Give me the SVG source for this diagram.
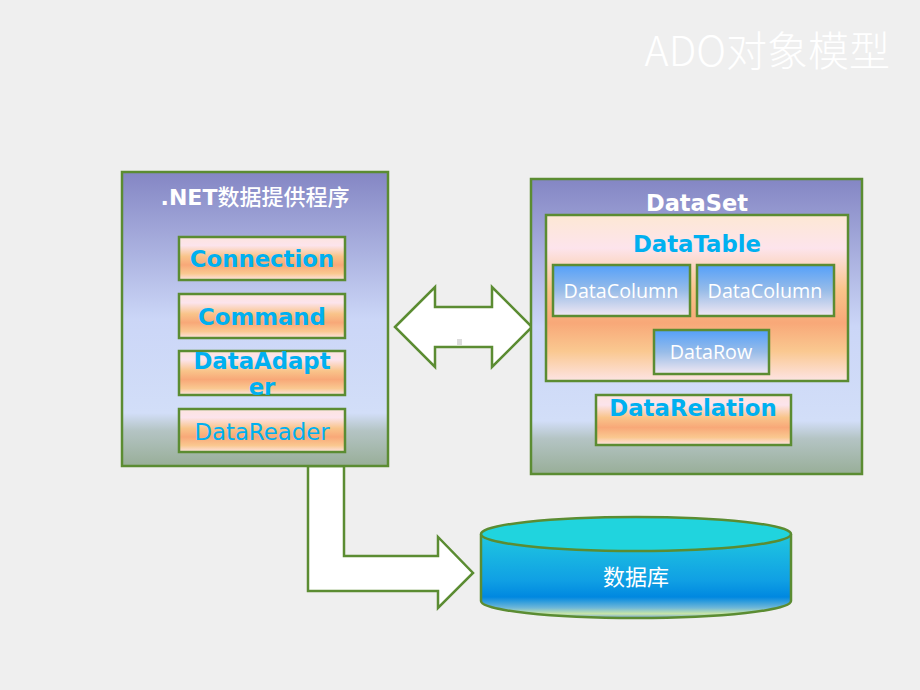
<svg xmlns="http://www.w3.org/2000/svg" width="920" height="690" viewBox="0 0 920 690">
<style>
.box{stroke:#5b8c32;stroke-width:2.5}
.t{font-family:"DejaVu Sans","Noto Sans CJK SC",sans-serif}
.w{fill:#ffffff}
.b{fill:#00b0f0;font-weight:bold;font-size:22.8px}
.cjk{font-family:"Noto Sans CJK SC","Liberation Sans",sans-serif}
.dc{font-family:"Open Sans","Liberation Sans",sans-serif;fill:#fff;font-size:19.7px}
</style>
<defs>
<linearGradient id="outer" x1="0" y1="0" x2="0" y2="1">
<stop offset="0" stop-color="#8486c4"/>
<stop offset="0.5" stop-color="#cbd6f7"/>
<stop offset="0.82" stop-color="#d2def8"/>
<stop offset="0.88" stop-color="#b4c4c4"/>
<stop offset="1" stop-color="#98ae98"/>
</linearGradient>
<linearGradient id="orange" x1="0" y1="0" x2="0" y2="1">
<stop offset="0" stop-color="#fde4e0"/>
<stop offset="0.2" stop-color="#fce4ec"/>
<stop offset="0.45" stop-color="#f9c48a"/>
<stop offset="0.65" stop-color="#f8a878"/>
<stop offset="0.85" stop-color="#fac890"/>
<stop offset="1" stop-color="#fde4e4"/>
</linearGradient>
<linearGradient id="table" x1="0" y1="0" x2="0" y2="1">
<stop offset="0" stop-color="#fde8d4"/>
<stop offset="0.2" stop-color="#fde4ec"/>
<stop offset="0.45" stop-color="#f9c48a"/>
<stop offset="0.65" stop-color="#f8a878"/>
<stop offset="0.82" stop-color="#fac890"/>
<stop offset="1" stop-color="#fde4e4"/>
</linearGradient>
<linearGradient id="blue" x1="0" y1="0" x2="0" y2="1">
<stop offset="0" stop-color="#54a0fa"/>
<stop offset="0.5" stop-color="#98bce8"/>
<stop offset="1" stop-color="#f2e8f2"/>
</linearGradient>
<linearGradient id="cyl" x1="0" y1="0" x2="0" y2="1">
<stop offset="0" stop-color="#20c8e0"/>
<stop offset="0.55" stop-color="#10a0e4"/>
<stop offset="0.75" stop-color="#0088e0"/>
<stop offset="0.88" stop-color="#70b8d8"/>
<stop offset="0.95" stop-color="#c8e6a8"/>
<stop offset="1" stop-color="#6fa0d8"/>
</linearGradient>
</defs>
<rect width="920" height="690" fill="#efefef"/>
<text x="890" y="66" text-anchor="end" font-size="41" fill="#ffffff" font-family="'Noto Sans CJK SC','Liberation Sans',sans-serif" font-weight="300">ADO对象模型</text>

<g id="connectors">
<path class="box" fill="#ffffff" d="M308,466 L344,466 L344,556 L438,556 L438,537 L473,573 L438,608 L438,591 L308,591 Z"/>
<path class="box" fill="#ffffff" d="M395,327 L435,287 L435,307 L492,307 L492,287 L532,327 L492,367 L492,347 L435,347 L435,367 Z"/>
<rect x="457" y="339" width="5" height="6" fill="#dcdcdc"/>
</g>

<g id="net-provider">
<rect class="box" x="122" y="172" width="266" height="294" fill="url(#outer)"/>
<text class="t w" x="255" y="205" text-anchor="middle" font-size="22" font-weight="bold">.NET<tspan font-family="'Noto Sans CJK SC',sans-serif" font-weight="500">数据提供程序</tspan></text>
</g>
<g id="connection">
<rect class="box" x="179" y="237" width="166" height="43" fill="url(#orange)"/>
<text class="t b" x="262" y="267" text-anchor="middle">Connection</text>
</g>
<g id="command">
<rect class="box" x="179" y="294" width="166" height="44" fill="url(#orange)"/>
<text class="t b" x="262" y="325" text-anchor="middle">Command</text>
</g>
<g id="dataadapter">
<rect class="box" x="179" y="351" width="166" height="44" fill="url(#orange)"/>
<text class="t b" x="262" y="369" text-anchor="middle">DataAdapt</text>
<text class="t b" x="262" y="395" text-anchor="middle">er</text>
</g>
<g id="datareader">
<rect class="box" x="179" y="409" width="166" height="43" fill="url(#orange)"/>
<text class="t" x="262" y="440" text-anchor="middle" font-size="22.8" fill="#00b0f0">DataReader</text>
</g>

<g id="dataset">
<rect class="box" x="531" y="179" width="331" height="295" fill="url(#outer)"/>
<text class="t w" x="697" y="211" text-anchor="middle" font-size="22.5" font-weight="bold">DataSet</text>
</g>
<g id="datatable">
<rect class="box" x="546" y="215" width="302" height="166" fill="url(#table)"/>
<text class="t b" x="697" y="252" text-anchor="middle">DataTable</text>
</g>
<g id="datacolumn1">
<rect class="box" x="553" y="265" width="137" height="51" fill="url(#blue)"/>
<text class="dc" x="621" y="298" text-anchor="middle">DataColumn</text>
</g>
<g id="datacolumn2">
<rect class="box" x="697" y="265" width="137" height="51" fill="url(#blue)"/>
<text class="dc" x="765" y="298" text-anchor="middle">DataColumn</text>
</g>
<g id="datarow">
<rect class="box" x="654" y="330" width="115" height="44" fill="url(#blue)"/>
<text class="dc" x="711" y="359" text-anchor="middle">DataRow</text>
</g>
<g id="datarelation">
<rect class="box" x="596" y="395" width="195" height="50" fill="url(#orange)"/>
<text class="t b" x="693" y="416" text-anchor="middle">DataRelation</text>
</g>

<g id="database">
<path class="box" fill="url(#cyl)" d="M481,534 L481,601 A155,17 0 0 0 791,601 L791,534"/>
<ellipse class="box" cx="636" cy="534" rx="155" ry="17" fill="#20d4de"/>
<text class="cjk" x="636" y="585" text-anchor="middle" font-size="22" fill="#ffffff">数据库</text>
</g>
</svg>
